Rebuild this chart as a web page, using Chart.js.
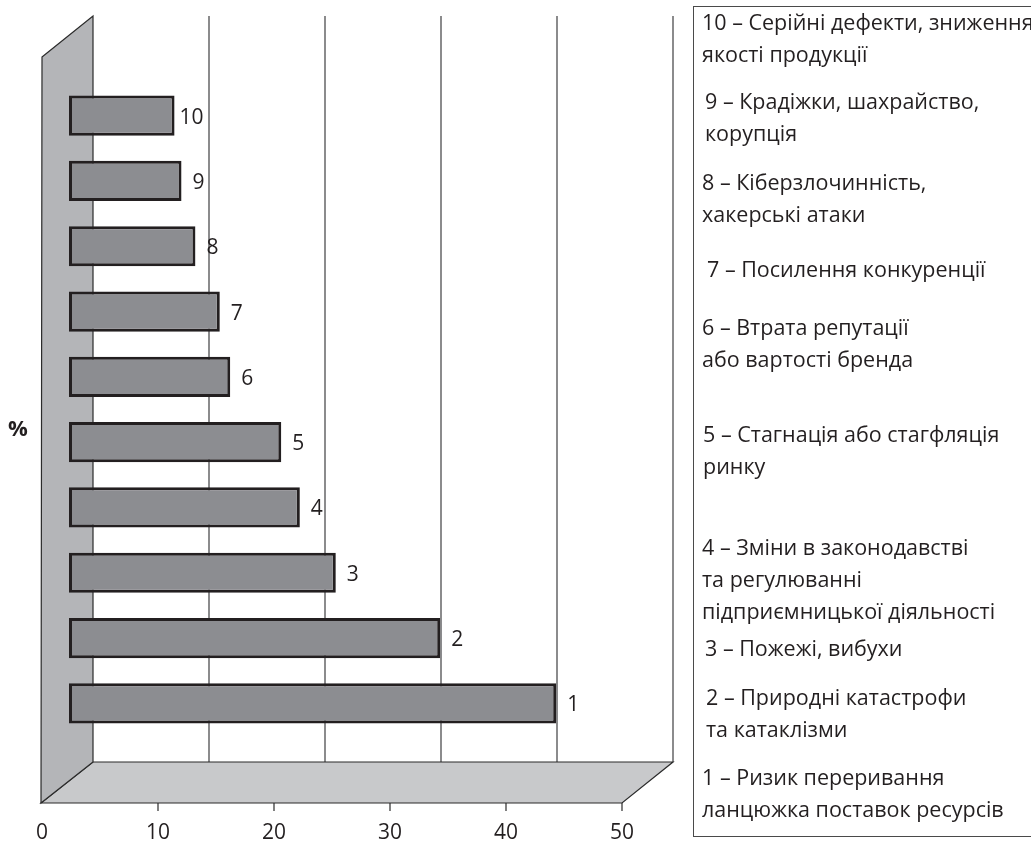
<!DOCTYPE html>
<html>
<head>
<meta charset="utf-8">
<script src="https://cdn.jsdelivr.net/npm/chart.js@4.4.1/dist/chart.umd.min.js"></script>
<style>
  html, body { margin: 0; padding: 0; background: #ffffff; }
  #wrap { position: relative; width: 1031px; height: 842px; overflow: hidden; }
  #chart { position: absolute; left: 0; top: 0; width: 1031px; height: 842px; }
  #legendBox { position: absolute; left: 693px; top: 6px; width: 400px; height: 831px;
               box-sizing: border-box; border: 1.5px solid #4a4a4a; }
  .item { position: absolute; left: 702px; font-family: 'Open Sans', sans-serif; font-size: 21.5px;
          line-height: 32px; color: #231f20; white-space: nowrap; }
</style>
</head>
<body>
<div id="wrap">
  <canvas id="chart" width="1031" height="842"></canvas>
  <div id="legendBox"></div>
</div>
<script>
// ---- data ----
const categories = ['1', '2', '3', '4', '5', '6', '7', '8', '9', '10'];
const shares = [42.0, 32.0, 23.0, 19.9, 18.3, 13.9, 13.0, 10.9, 9.7, 9.1];
const xTicks = [0, 10, 20, 30, 40, 50];
const axisUnit = '%';
const riskNames = [
  ['1 – Ризик переривання', 'ланцюжка поставок ресурсів'],
  ['2 – Природні катастрофи', 'та катаклізми'],
  ['3 – Пожежі, вибухи'],
  ['4 – Зміни в законодавстві', 'та регулюванні', 'підприємницької діяльності'],
  ['5 – Стагнація або стагфляція', 'ринку'],
  ['6 – Втрата репутації', 'або вартості бренда'],
  ['7 – Посилення конкуренції'],
  ['8 – Кіберзлочинність,', 'хакерські атаки'],
  ['9 – Крадіжки, шахрайство,', 'корупція'],
  ['10 – Серійні дефекти, зниження', 'якості продукції']
];

// ---- layout (not data) ----
const legendTops = [761, 681, 632, 531, 418, 311, 253, 166, 85, 6];
const legendLefts = [702, 706, 705, 702, 703, 702, 707, 702, 705, 702];

const wrap = document.getElementById('wrap');
riskNames.forEach((lines, i) => {
  const d = document.createElement('div');
  d.className = 'item';
  d.style.top = legendTops[i] + 'px';
  d.style.left = legendLefts[i] + 'px';
  d.innerHTML = lines.map(s => s.replace(/&/g, '&amp;')).join('<br>');
  wrap.appendChild(d);
});

const FONT = "'Open Sans', sans-serif";
const TXT = '#231f20';
const DX_FRONT = -27, DX_BACK = 24;

const threeD = {
  id: 'threeD',
  beforeDatasetsDraw(chart) {
    const ctx = chart.ctx, xs = chart.scales.x, a = chart.chartArea;
    const lo = xTicks[0], hi = xTicks[xTicks.length - 1];
    const fx = v => xs.getPixelForValue(v) + DX_FRONT;
    const bx = v => xs.getPixelForValue(v) + DX_BACK;
    const backTop = a.top - 67, frontTop = a.top - 26;
    const backBot = a.bottom + 26, frontBot = a.bottom + 67;
    ctx.save();
    ctx.lineJoin = 'miter';
    // back gridlines
    ctx.strokeStyle = '#4d4d4f';
    ctx.lineWidth = 1.3;
    xTicks.forEach(v => {
      if (v === lo) return;
      ctx.beginPath();
      ctx.moveTo(bx(v), backTop);
      ctx.lineTo(bx(v), backBot);
      ctx.stroke();
    });
    // floor
    ctx.beginPath();
    ctx.moveTo(bx(lo), backBot);
    ctx.lineTo(bx(hi), backBot);
    ctx.lineTo(fx(hi), frontBot);
    ctx.lineTo(fx(lo) - 1, frontBot);
    ctx.closePath();
    ctx.fillStyle = '#c8c9cb';
    ctx.fill();
    ctx.strokeStyle = '#2b2b2b';
    ctx.lineWidth = 1.2;
    ctx.stroke();
    // left wall
    ctx.beginPath();
    ctx.moveTo(fx(lo), frontTop);
    ctx.lineTo(bx(lo), backTop);
    ctx.lineTo(bx(lo), backBot);
    ctx.lineTo(fx(lo) - 1, frontBot);
    ctx.closePath();
    ctx.fillStyle = '#b4b5b8';
    ctx.fill();
    ctx.stroke();
    // front axis tick marks
    ctx.strokeStyle = '#2b2b2b';
    ctx.lineWidth = 1.2;
    xTicks.forEach(v => {
      if (v === lo) return;
      ctx.beginPath();
      ctx.moveTo(fx(v), frontBot);
      ctx.lineTo(fx(v), frontBot + 8);
      ctx.stroke();
    });
    ctx.restore();
  },
  afterDatasetsDraw(chart) {
    const ctx = chart.ctx;
    const meta = chart.getDatasetMeta(0);
    ctx.save();
    ctx.font = '21px ' + FONT;
    ctx.fillStyle = TXT;
    ctx.textAlign = 'center';
    ctx.textBaseline = 'middle';
    meta.data.forEach((bar, i) => {
      ctx.fillText(chart.data.labels[i], bar.x + 17, bar.y + 2);
    });
    // axis unit
    ctx.font = 'bold 22px ' + FONT;
    ctx.fillText(axisUnit, 18, 430);
    ctx.restore();
  }
};

new Chart(document.getElementById('chart'), {
  type: 'bar',
  data: {
    labels: categories,
    datasets: [{
      data: shares,
      backgroundColor: '#8c8d91',
      borderColor: '#231f20',
      borderWidth: 3,
      borderSkipped: false,
      categoryPercentage: 0.615,
      barPercentage: 1.0
    }]
  },
  options: {
    indexAxis: 'y',
    responsive: false,
    animation: false,
    layout: { padding: { left: 69, right: 382, top: 83, bottom: 0 } },
    plugins: { legend: { display: false }, tooltip: { enabled: false } },
    scales: {
      x: {
        min: xTicks[0],
        max: xTicks[xTicks.length - 1],
        afterBuildTicks(scale) { scale.ticks = xTicks.map(v => ({ value: v })); },
        afterFit(scale) { scale.height = 106; scale.paddingLeft = 0; scale.paddingRight = 0; },
        grid: { display: false, drawTicks: false },
        border: { display: false },
        ticks: {
          labelOffset: DX_FRONT,
          padding: 87,
          color: TXT,
          font: { family: FONT, size: 21, lineHeight: 1 },
          maxRotation: 0
        }
      },
      y: {
        reverse: true,
        display: false,
        grid: { display: false }
      }
    }
  },
  plugins: [threeD]
});
</script>
</body>
</html>
